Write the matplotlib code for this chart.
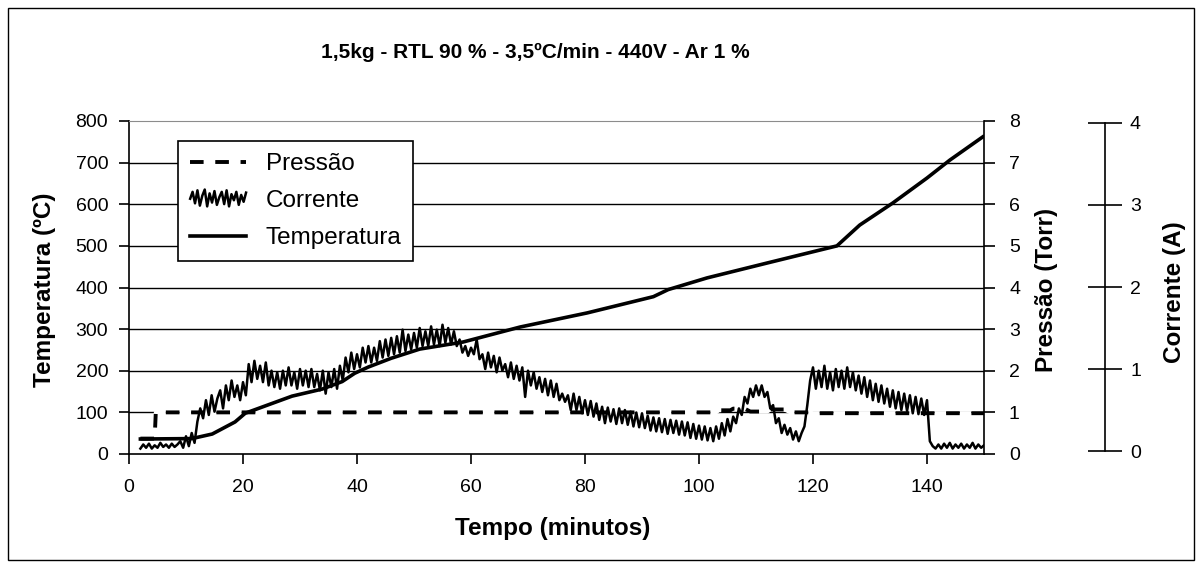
import matplotlib
matplotlib.use("Agg")
import matplotlib.pyplot as plt
import numpy as np
from matplotlib.lines import Line2D
from matplotlib.legend_handler import HandlerBase
from matplotlib.patches import Rectangle

plt.rcParams["font.family"] = ["Liberation Sans", "DejaVu Sans"]

title = "1,5kg - RTL 90 % - 3,5ºC/min - 440V - Ar 1 %"

# Temperatura (ºC) vs tempo (min)
temp_t = [2, 11, 12, 14.6, 18.6, 20.4, 24.4, 28.6, 33.9, 37.4, 39.6, 42, 46, 51,
          58.6, 68.6, 80.4, 92, 94.6, 101.4, 112, 124.2, 128.2, 134, 140, 144, 149.8]
temp_c = [36, 37, 40, 48, 77, 98, 118, 139, 156, 174, 194, 209, 230, 252,
          269, 305, 339, 378, 395, 423, 459, 500, 550, 603, 663, 706, 762]

# Pressao (Torr)
pres_t = [2, 4.5, 4.7, 103, 103.5, 105.5, 106, 108, 109, 112, 112.5, 115, 116, 119.5, 120, 150]
pres_v = [0.37, 0.37, 1.0, 1.0, 1.05, 1.05, 1.09, 1.09, 1.02, 1.02, 1.07, 1.07, 1.0, 1.0, 0.98, 0.98]

# Corrente (A), one reading every 0.5 min from 2 to 150 min
current = [
    0.03, 0.08, 0.04, 0.09, 0.03, 0.07, 0.04, 0.10, 0.05, 0.08,
    0.04, 0.09, 0.05, 0.08, 0.12, 0.04, 0.18, 0.06, 0.22, 0.10,
    0.36, 0.52, 0.40, 0.62, 0.44, 0.68, 0.48, 0.64, 0.74, 0.52,
    0.80, 0.62, 0.86, 0.66, 0.80, 0.62, 0.84, 0.68, 1.06, 0.84,
    1.10, 0.88, 1.04, 0.84, 1.08, 0.80, 0.98, 0.78, 0.96, 0.76,
    0.98, 0.80, 1.02, 0.80, 0.96, 0.76, 1.00, 0.80, 0.98, 0.78,
    1.00, 0.78, 0.94, 0.74, 0.98, 0.70, 0.96, 0.78, 1.00, 0.76,
    1.04, 0.86, 1.14, 0.96, 1.20, 1.00, 1.18, 1.02, 1.26, 1.08,
    1.28, 1.08, 1.26, 1.10, 1.34, 1.14, 1.36, 1.16, 1.38, 1.18,
    1.40, 1.20, 1.48, 1.22, 1.42, 1.24, 1.44, 1.26, 1.50, 1.28,
    1.46, 1.28, 1.52, 1.30, 1.48, 1.28, 1.54, 1.32, 1.50, 1.30,
    1.46, 1.28, 1.36, 1.20, 1.28, 1.16, 1.26, 1.18, 1.36, 1.12,
    1.18, 1.00, 1.20, 1.02, 1.16, 0.96, 1.14, 0.98, 1.06, 0.90,
    1.08, 0.88, 1.04, 0.86, 1.02, 0.66, 0.98, 0.80, 0.96, 0.76,
    0.90, 0.72, 0.88, 0.68, 0.86, 0.66, 0.82, 0.62, 0.70, 0.60,
    0.68, 0.50, 0.70, 0.50, 0.66, 0.46, 0.62, 0.44, 0.61, 0.42,
    0.58, 0.38, 0.54, 0.34, 0.53, 0.36, 0.51, 0.33, 0.52, 0.34,
    0.50, 0.32, 0.48, 0.30, 0.47, 0.29, 0.46, 0.28, 0.43, 0.25,
    0.41, 0.24, 0.40, 0.23, 0.39, 0.21, 0.38, 0.22, 0.37, 0.20,
    0.36, 0.19, 0.35, 0.16, 0.33, 0.15, 0.31, 0.14, 0.30, 0.13,
    0.28, 0.12, 0.30, 0.15, 0.34, 0.19, 0.39, 0.24, 0.42, 0.34,
    0.52, 0.44, 0.66, 0.58, 0.76, 0.66, 0.80, 0.68, 0.80, 0.66,
    0.72, 0.52, 0.56, 0.34, 0.40, 0.22, 0.32, 0.20, 0.28, 0.14,
    0.24, 0.12, 0.22, 0.30, 0.56, 0.86, 1.02, 0.76, 0.98, 0.78,
    1.04, 0.76, 0.96, 0.74, 1.00, 0.78, 0.98, 0.76, 1.02, 0.78,
    0.96, 0.74, 0.92, 0.70, 0.90, 0.66, 0.86, 0.62, 0.82, 0.60,
    0.80, 0.58, 0.76, 0.54, 0.74, 0.52, 0.72, 0.50, 0.70, 0.49,
    0.68, 0.46, 0.66, 0.45, 0.64, 0.44, 0.62, 0.12, 0.06, 0.03,
    0.08, 0.03, 0.09, 0.04, 0.10, 0.03, 0.08, 0.04, 0.09, 0.03,
    0.08, 0.04, 0.10, 0.03, 0.08, 0.04, 0.07,
]
current_t = np.linspace(2, 150, len(current))

# little squiggle used as the legend glyph for Corrente
legend_wiggle = [0, .45, -.3, .55, -.45, .2, .6, -.5, .35, -.25, .5, -.4, .1,
                 .45, -.35, .55, -.5, .3, -.1, .45, -.4, .25, -.2, .4]


class NoisyHandler(HandlerBase):
    def create_artists(self, legend, orig_handle, xdescent, ydescent,
                       width, height, fontsize, trans):
        xs = np.linspace(-xdescent, width - xdescent, len(legend_wiggle))
        ys = height / 2 - ydescent + np.array(legend_wiggle) * height * 0.9
        return [Line2D(xs, ys, color="black", lw=1.8, transform=trans)]


fig = plt.figure(figsize=(11.99, 5.64), dpi=100)
W, H = 1199, 564
ax = fig.add_axes([129 / W, 1 - 454 / H, 855 / W, 333 / H])
ax2 = ax.twinx()
ax3 = ax.twinx()

ax.set_xlim(0, 150)
ax.set_ylim(0, 800)
ax2.set_ylim(0, 8)
ax3.set_ylim(-0.036, 4.024)

# grid lines
for v in range(100, 800, 100):
    ax.axhline(v, color="black", lw=1.0, zorder=1)

# all series drawn in ax so that the layering matches the original
ax.plot(pres_t, pres_v, color="black", lw=2.8, linestyle=(0, (3.5, 3)),
        gapcolor="white", transform=ax2.transData, zorder=2, label="Pressão")
ax.plot(current_t, current, color="black", lw=1.8, transform=ax3.transData,
        zorder=3, label="Corrente")
ax.plot(temp_t, temp_c, color="black", lw=2.6, zorder=4, label="Temperatura")

# spines / ticks
for a in (ax, ax2, ax3):
    for s in a.spines.values():
        s.set_visible(False)
ax.spines["left"].set_visible(True)
ax.spines["bottom"].set_visible(True)
ax.spines["top"].set_visible(True)
ax.spines["top"].set_color("#8c8c8c")
ax2.spines["right"].set_visible(True)
ax3.spines["right"].set_visible(True)
ax3.spines["right"].set_position(("axes", (1105 - 129) / 855))
ax3.spines["right"].set_bounds(0, 4)
for s in (ax.spines["left"], ax.spines["bottom"], ax2.spines["right"], ax3.spines["right"]):
    s.set_linewidth(1.2)

ax.set_xticks(range(0, 160, 20))
ax.set_yticks(range(0, 900, 100))
ax2.set_yticks(range(0, 9))
ax3.set_yticks(range(0, 5))
ax.tick_params(axis="both", direction="out", length=7, width=1.2, labelsize=14, pad=8)
ax.tick_params(axis="x", pad=11)
ax2.tick_params(axis="y", direction="out", length=8, width=1.2, labelsize=14, pad=10)
ax3.tick_params(axis="y", direction="inout", length=24, width=1.2, labelsize=14, pad=6)

# axis titles
fig.text(535 / W, 1 - 52 / H, title, ha="center", va="center", fontsize=15, fontweight="bold")
fig.text(553 / W, 1 - 528 / H, "Tempo (minutos)", ha="center", va="center",
         fontsize=17.5, fontweight="bold")
fig.text(45 / W, 1 - 290 / H, "Temperatura (ºC)", ha="center", va="center",
         rotation=90, fontsize=17.5, fontweight="bold")
fig.text(1047 / W, 1 - 290 / H, "Pressão (Torr)", ha="center", va="center",
         rotation=90, fontsize=17.5, fontweight="bold")
fig.text(1174 / W, 1 - 292 / H, "Corrente (A)", ha="center", va="center",
         rotation=90, fontsize=17.5, fontweight="bold")

handles = [
    Line2D([], [], color="black", lw=2.8, linestyle=(0, (3.5, 3))),
    Line2D([], [], color="black"),
    Line2D([], [], color="black", lw=2.6),
]
leg = ax.legend(handles, ["Pressão", "Corrente", "Temperatura"],
                handler_map={handles[1]: NoisyHandler()},
                loc="upper left", bbox_to_anchor=((178 - 129) / 855, (454 - 141) / 333),
                borderaxespad=0, fancybox=False, framealpha=1, edgecolor="black",
                fontsize=17.5, handlelength=2.3, handletextpad=0.8, labelspacing=0.62,
                borderpad=0.5)
leg.get_frame().set_linewidth(1.2)
leg.set_zorder(10)

# outer chart border
fig.patches.append(Rectangle((8 / W, 4 / H), 1186 / W, 552 / H, transform=fig.transFigure,
                             fill=False, edgecolor="black", lw=1.0))

fig.savefig("out.png", dpi=100, facecolor="white")
